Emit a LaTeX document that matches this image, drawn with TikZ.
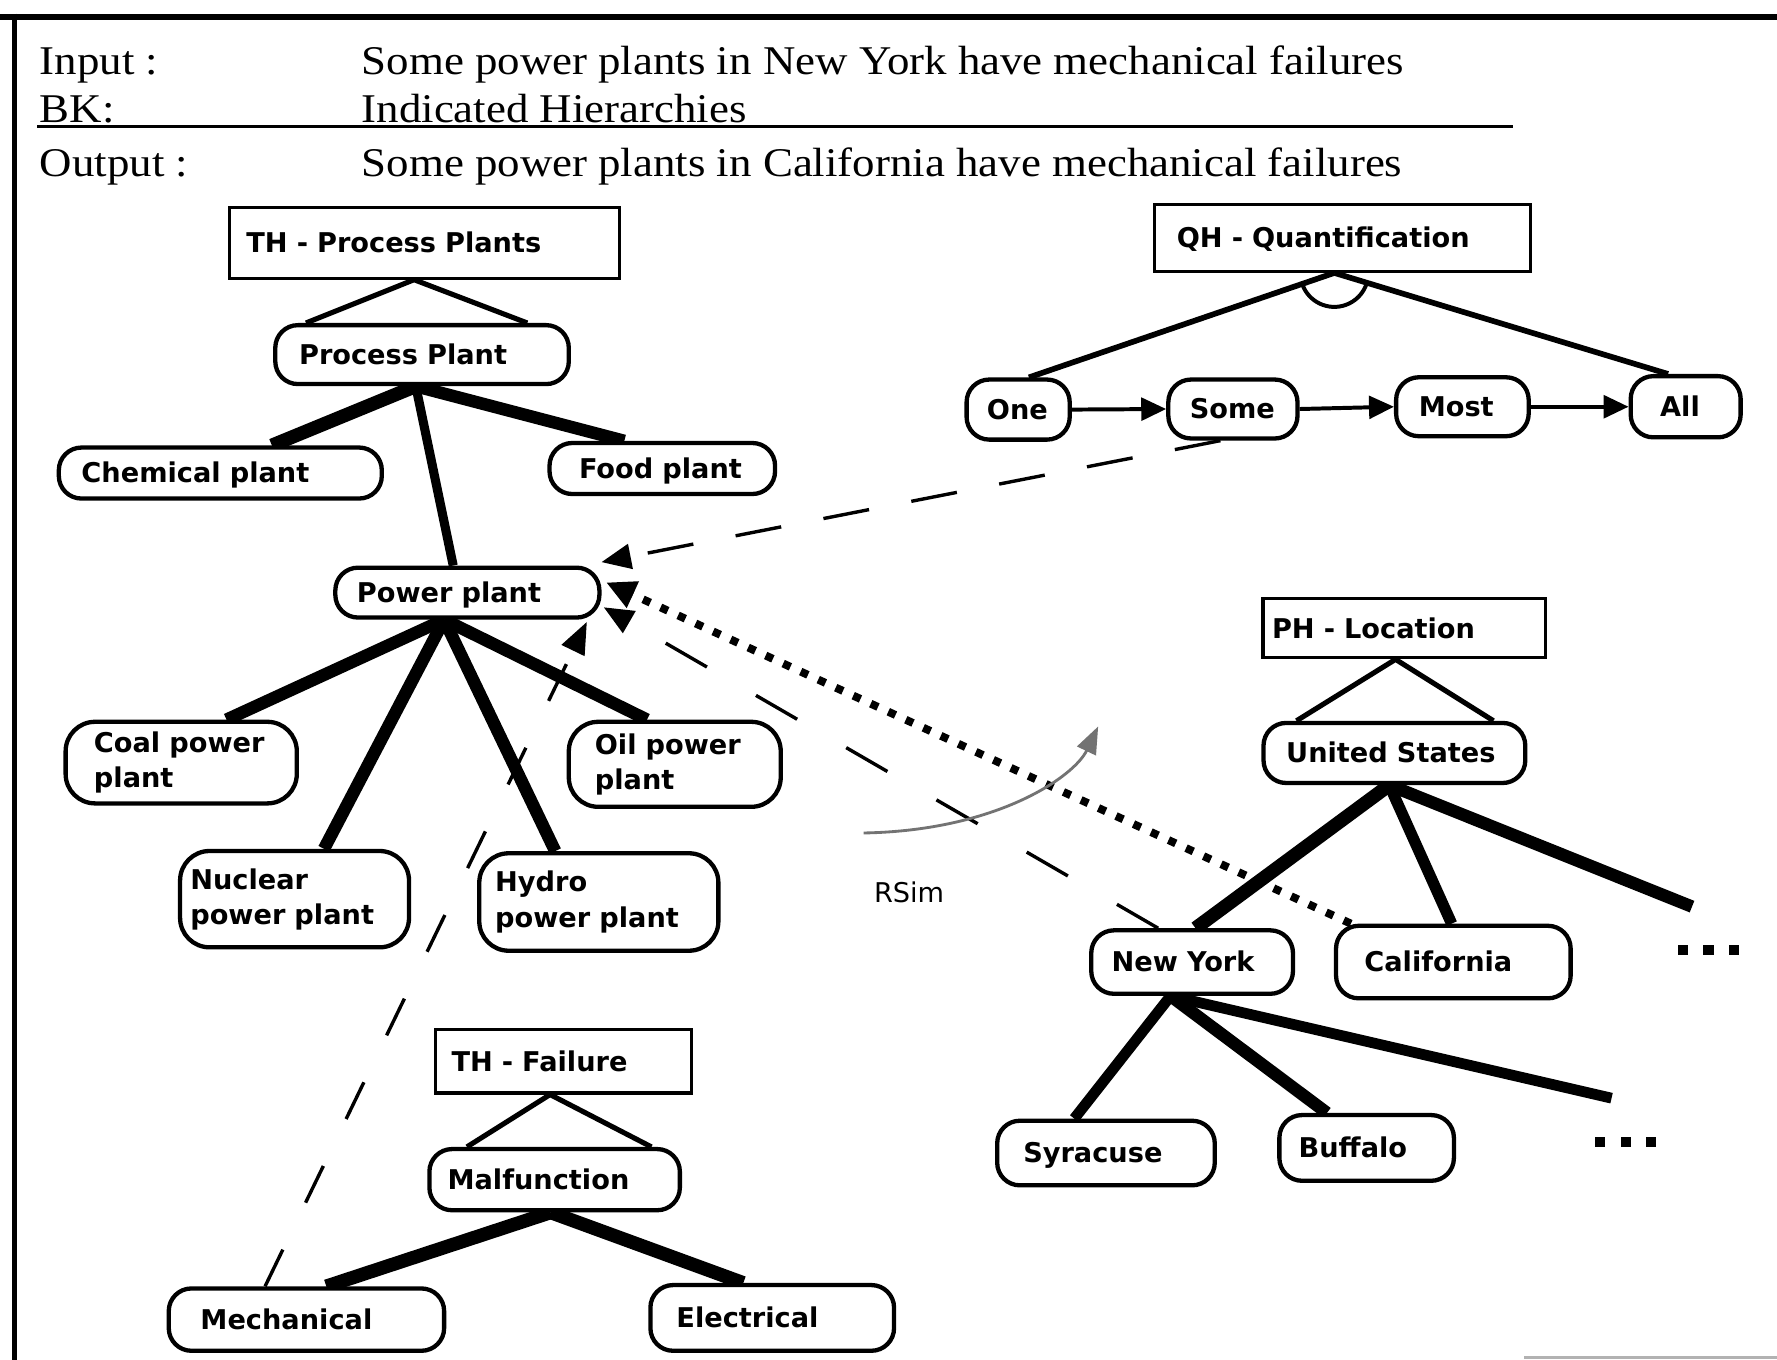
\documentclass[tikz,border=0pt]{standalone}
\usepackage{fontspec}
\usepackage{graphicx}
\usetikzlibrary{arrows.meta}
\setmainfont{Liberation Serif}
\newfontfamily\serifhead{Liberation Serif}[FakeStretch=1.1]
\newfontfamily\labelfont{DejaVu Sans}
\pgfdeclarelayer{background}
\pgfsetlayers{background,main}

\tikzset{
  headtxt/.style={anchor=base west, inner sep=0pt, font=\serifhead\fontsize{36}{40}\selectfont},
  nodefont/.style={font=\labelfont\bfseries\fontsize{24}{31}\selectfont},
  pill/.style={draw, fill=white, line width=3.8pt, rounded corners=20pt, anchor=north west,
    align=left, inner ysep=0pt, nodefont},
  twoline/.style={rounded corners=26pt},
  oneline/.style={text height=17.5pt, text depth=0pt},
  hbox/.style={draw, fill=white, line width=2.8pt, anchor=north west, align=left,
    inner ysep=0pt, text height=17.5pt, text depth=0pt, nodefont},
  geom/.style n args={4}{minimum width=#1pt, minimum height=#2pt, inner xsep=#3pt, text width=#4pt},
  tri/.style={line width=4.5pt, line join=miter},
  tedge/.style={line width=11pt},
  qline/.style={line width=5pt},
  qarrow/.style={line width=3.5pt, -{Triangle[length=22pt, width=20pt]}},
  simq/.style={line width=3pt, dash pattern=on 41pt off 38pt, -{Triangle[length=26pt, width=22pt]}},
  simca/.style={line width=7pt, dash pattern=on 7pt off 10pt, -{Triangle[length=26pt, width=24pt]}},
  simny/.style={line width=3pt, dash pattern=on 42pt off 50pt, -{Triangle[length=26pt, width=22pt]}},
  simmech/.style={line width=3pt, dash pattern=on 36pt off 46pt, -{Triangle[length=28pt, width=22pt]}},
  rsim/.style={draw=black!55, line width=2.5pt, -{Triangle[length=24pt, width=18pt, fill=black!55]}},
  dotsq/.style={fill=black},
}

\begin{document}
\begin{tikzpicture}[x=1pt, y=-1pt]
\useasboundingbox (0,0) rectangle (1568,1200);

% ---------- statement of the inference ----------
\node[headtxt] (inlbl)  at (35,66)    {Input :};
\node[headtxt] (intxt)  at (319,66)   {Some power plants in New York have mechanical failures};
\node[headtxt] (bklbl)  at (35,108.5) {BK:};
\node[headtxt] (bktxt)  at (319,108.5){Indicated Hierarchies};
\node[headtxt] (outlbl) at (35,156)   {Output :};
\node[headtxt] (outtxt) at (319,156)  {Some power plants in California have mechanical failures};

% ---------- type hierarchy: process plants ----------
\node[hbox, geom={344}{62}{15}{314}] (thpp) at (201,182) {TH - Process Plants};
\node[pill, oneline, geom={259}{52}{21}{217}] (proc) at (241,285) {Process Plant};
\node[pill, oneline, geom={285}{45}{20}{245}] (chem) at (50,393) {Chemical plant};
\node[pill, oneline, geom={199}{45}{26}{147}] (food) at (483,389) {Food plant};
\node[pill, oneline, geom={233}{44}{19}{195}] (power) at (294,499) {Power plant};
\node[pill, twoline, geom={204}{72}{25}{154}] (coal) at (56,635) {Coal power\\plant};
\node[pill, twoline, geom={187}{75}{23}{141}] (oil) at (500,635) {Oil power\\plant};
\node[pill, twoline, geom={202}{85}{9}{184}] (nuclear) at (157,749) {Nuclear\\power plant};
\node[pill, twoline, geom={211}{86}{14}{183}] (hydro) at (421,751) {Hydro\\power plant};

% ---------- type hierarchy: failure ----------
\node[hbox, geom={226}{56}{14}{198}] (thfail) at (383,907) {TH - Failure};
\node[pill, oneline, geom={221}{54}{16}{189}] (malf) at (377,1012) {Malfunction};
\node[pill, oneline, geom={243}{55}{28}{187}] (mech) at (147,1135) {Mechanical};
\node[pill, oneline, geom={215}{58}{23}{169}] (elec) at (572,1132) {Electrical};

% ---------- quantification hierarchy ----------
\node[hbox, geom={332}{59}{20}{292}] (qh) at (1017,179) {QH - Quantification};
\node[pill, oneline, geom={91}{53}{18}{55}] (one) at (851,333) {One};
\node[pill, oneline, geom={114}{52}{19}{76}] (some) at (1029,333) {Some};
\node[pill, oneline, geom={117}{52}{20}{77}] (most) at (1230,331) {Most};
\node[pill, oneline, geom={97}{54}{26}{45}] (all) at (1437,330) {All};

% ---------- part-of hierarchy: location ----------
\node[hbox, geom={249}{52}{8}{233}] (ph) at (1113,527) {PH - Location};
\node[pill, oneline, geom={231}{53}{20}{191}] (us) at (1113,636) {United States};
\node[pill, oneline, geom={178}{56}{18}{142}] (ny) at (961,819) {New York};
\node[pill, oneline, geom={207}{64}{25}{157}] (ca) at (1177,815) {California};
\node[pill, oneline, geom={192}{57}{23}{146}] (syr) at (878,987) {Syracuse};
\node[pill, oneline, geom={154}{58}{17}{120}] (buf) at (1127,982) {Buffalo};

\coordinate (usmore) at (1493,800);
\coordinate (nymore) at (1422,969);
\coordinate (qhapex) at ([xshift=-7pt]qh.south);
\coordinate (rsimA) at (762,735);
\coordinate (rsimB) at (969,641);

\node[anchor=base west, inner sep=0pt, font=\labelfont\fontsize{24}{28}\selectfont] (rsimlbl) at (771,796) {RSim};

\begin{pgfonlayer}{background}
  \fill[white] (0,0) rectangle (1568,1200);
  % frame rules
  \draw[line width=6pt] (0,15) -- (1568,15);
  \draw[line width=4.2pt] (13,12) -- (13,1200);
  \draw[line width=2.6pt] (33,112) -- (1335,112);
  \draw[black!30, line width=3pt] (1345,1198) -- (1568,1198);

  % hierarchy roots
  \draw[tri] ([xshift=29pt]proc.north west) -- ([xshift=-9pt]thpp.south) -- ([xshift=-38.5pt]proc.north east);
  \draw[tri] ([xshift=35pt]malf.north west) -- ([xshift=-12pt]thfail.south) -- ([xshift=-27pt]malf.north east);
  \draw[tri] ([xshift=31pt]us.north west) -- ([xshift=-7.5pt]ph.south) -- ([xshift=-30pt]us.north east);

  % process plants
  \draw[tedge, line width=12pt] ([xshift=-5.5pt]proc.south) -- ([xshift=45.5pt]chem.north);
  \draw[tedge, line width=8pt] ([xshift=-5.5pt]proc.south) -- ([xshift=-12.5pt]power.north);
  \draw[tedge] ([xshift=-5.5pt]proc.south) -- ([xshift=-33.5pt]food.north);
  \draw[tedge] ([xshift=-20.5pt]power.south) -- ([xshift=40pt]coal.north);
  \draw[tedge] ([xshift=-20.5pt]power.south) -- ([xshift=26pt]nuclear.north);
  \draw[tedge] ([xshift=-20.5pt]power.south) -- ([xshift=-38.5pt]hydro.north);
  \draw[tedge] ([xshift=-20.5pt]power.south) -- ([xshift=-24.5pt]oil.north);

  % failure
  \draw[tedge, line width=12pt] ([xshift=-3.5pt]malf.south) -- ([xshift=17.5pt]mech.north);
  \draw[tedge, line width=12pt] ([xshift=-3.5pt]malf.south) -- ([xshift=-25.5pt]elec.north);

  % location
  \draw[tedge, line width=12pt] ([xshift=-4.5pt]us.south) -- ([xshift=3pt]ny.north);
  \draw[tedge, line width=10pt] ([xshift=-4.5pt]us.south) -- ([xshift=-1.5pt]ca.north);
  \draw[tedge] ([xshift=-4.5pt]us.south) -- (usmore);
  \draw[tedge, line width=9.5pt] ([xshift=-19pt]ny.south) -- ([xshift=-28pt]syr.north);
  \draw[tedge] ([xshift=-19pt]ny.south) -- ([xshift=-35pt]buf.north);
  \draw[tedge, line width=9.5pt] ([xshift=-19pt]ny.south) -- (nymore);

  % quantification
  \draw[qline] (qhapex) -- ([xshift=9.5pt]one.north);
  \draw[qline] (qhapex) -- ([xshift=-15.5pt]all.north);
  \draw[line width=3.5pt] (qhapex) ++(199.4:30pt) arc[start angle=199.4, end angle=342.4, radius=30pt];
\end{pgfonlayer}

% ordering of quantifiers
\draw[qarrow] (one.east) -- (some.west);
\draw[qarrow] (some.east) -- (most.west);
\draw[qarrow] (most.east) -- (all.west);

% continuation marks
\foreach \cx in {1485,1507.5,1530} \fill[dotsq] (\cx-4.5,833.5) rectangle (\cx+4.5,842.5);
\foreach \cx in {1412,1434.5,1457} \fill[dotsq] (\cx-4.5,1003) rectangle (\cx+4.5,1012);

% similarity links onto the power plant
\draw[simq] ([xshift=-11pt]some.south) -- ([yshift=3pt]power.north east);
\draw[simca] ([xshift=15pt]ca.north west) -- ([xshift=4pt,yshift=9pt]power.east);
\draw[simny] ([xshift=-30pt]ny.north) -- ([xshift=2pt,yshift=-13pt]power.east);
\draw[simmech] ([xshift=-36.5pt]mech.north) -- ([xshift=-13pt,yshift=-2pt]power.south east);

% similarity relation
\draw[rsim] (rsimA) .. controls (880,733) and (948,685) .. (rsimB);
\end{tikzpicture}
\end{document}
